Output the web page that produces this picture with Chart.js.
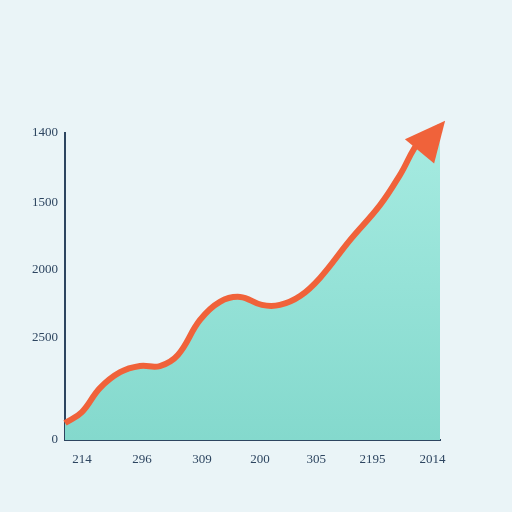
<!DOCTYPE html>
<html>
<head>
<meta charset="utf-8">
<script src="https://cdn.jsdelivr.net/npm/chart.js@4/dist/chart.umd.min.js"></script>
<style>
  html, body { margin: 0; padding: 0; background: #eaf4f7; }
  #wrap { width: 512px; height: 512px; }
</style>
</head>
<body>
<div id="wrap"><canvas id="c" width="512" height="512"></canvas></div>
<script>
// Values (x and y in 0..100 axis units)
const xValues = [0, 4.5, 9.3, 14.7, 20, 25.3, 30.1, 36, 41.3, 46.7, 52.5, 57.3, 62.7, 68, 76, 84, 89.3, 94.7, 100];
const yValues = [5.5, 9.1, 16.9, 22.1, 24.1, 24.1, 27.7, 39.1, 45.0, 46.6, 44.0, 44.0, 46.9, 52.8, 65.1, 76.5, 86.3, 97.7, 102];

const xTickPos = [4.5, 20.5, 36.5, 52, 67, 82, 98];
const xTickLabels = ['214', '296', '309', '200', '305', '2195', '2014'];
const yTickPos = [0, 33.2, 55.4, 77.2, 100];
const yTickLabels = ['0', '2500', '2000', '1500', '1400'];

const points = xValues.map((x, i) => ({ x: x, y: yValues[i] }));

const arrowHead = {
    id: 'arrowHead',
    afterDatasetsDraw(chart) {
        const meta = chart.getDatasetMeta(0);
        const n = meta.data.length;
        const p = meta.data[n - 1], q = meta.data[n - 3];
        const ang = Math.atan2(p.y - q.y, p.x - q.x);
        const ctx = chart.ctx;
        const tipX = p.x + Math.cos(ang) * 8, tipY = p.y + Math.sin(ang) * 8;
        ctx.save();
        ctx.translate(tipX, tipY);
        ctx.rotate(ang);
        ctx.beginPath();
        ctx.moveTo(0, 0);
        ctx.lineTo(-40, -19);
        ctx.lineTo(-40, 19);
        ctx.closePath();
        ctx.fillStyle = '#f0623a';
        ctx.fill();
        ctx.restore();
    }
};

const ctx = document.getElementById('c');
new Chart(ctx, {
    type: 'line',
    data: {
        datasets: [{
            data: points,
            borderColor: '#f0623a',
            borderWidth: 6,
            pointRadius: 0,
            tension: 0.4,
            fill: 'origin',
            backgroundColor: function (c) {
                const a = c.chart.chartArea;
                if (!a) return '#95e0d5';
                const g = c.chart.ctx.createLinearGradient(0, a.top, 0, a.bottom);
                g.addColorStop(0, '#a6ebe1');
                g.addColorStop(1, '#84d9cd');
                return g;
            },
            clip: false
        }]
    },
    options: {
        responsive: false,
        animation: false,
        layout: { padding: { top: 133, right: 72, bottom: 40, left: 0 } },
        plugins: { legend: { display: false }, tooltip: { enabled: false } },
        scales: {
            x: {
                type: 'linear', min: 0, max: 100,
                afterFit: s => { s.height = 32; },
                afterBuildTicks: s => { s.ticks = xTickPos.map(v => ({ value: v })); },
                grid: { display: false, drawTicks: false },
                border: { color: '#2d4560', width: 2 },
                ticks: {
                    padding: 12, color: '#2d4560',
                    font: { family: 'Liberation Serif', size: 13 },
                    callback: (v, i) => xTickLabels[i]
                }
            },
            y: {
                type: 'linear', min: 0, max: 100,
                afterFit: s => { s.width = 65; },
                afterBuildTicks: s => { s.ticks = yTickPos.map(v => ({ value: v })); },
                grid: { display: false, drawTicks: false },
                border: { color: '#2d4560', width: 2 },
                ticks: {
                    padding: 7, color: '#2d4560',
                    font: { family: 'Liberation Serif', size: 13 },
                    callback: (v, i) => yTickLabels[i]
                }
            }
        }
    },
    plugins: [arrowHead]
});
</script>
</body>
</html>
